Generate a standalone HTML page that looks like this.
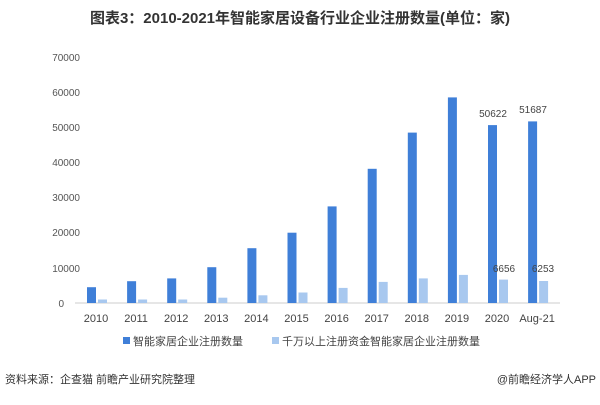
<!DOCTYPE html><html><head><meta charset="utf-8"><style>body{margin:0;background:#fff}svg text{font-family:"Liberation Sans","Noto Sans CJK SC",sans-serif}</style></head><body>
<svg width="600" height="400" xmlns="http://www.w3.org/2000/svg">
<text x="300" y="23" text-anchor="middle" font-size="15" font-weight="bold" fill="#333">图表3：2010-2021年智能家居设备行业企业注册数量(单位：家)</text>
<g font-size="10" fill="#555" text-anchor="end">
<text x="80" y="61">70000</text><text x="80" y="96">60000</text><text x="80" y="131">50000</text><text x="80" y="166">40000</text><text x="80" y="201">30000</text><text x="80" y="236">20000</text><text x="80" y="272">10000</text><text x="64" y="307">0</text>
</g>
<line x1="75" y1="303" x2="560" y2="303" stroke="#ccc"/>
<g fill="#3f7fd8">
<rect x="87" y="287.2" width="9" height="15.8"/>
<rect x="127.1" y="281.2" width="9" height="21.8"/>
<rect x="167.2" y="278.4" width="9" height="24.6"/>
<rect x="207.3" y="267.2" width="9" height="35.8"/>
<rect x="247.4" y="248.2" width="9" height="54.8"/>
<rect x="287.5" y="232.7" width="9" height="70.3"/>
<rect x="327.6" y="206.4" width="9" height="96.6"/>
<rect x="367.7" y="168.8" width="9" height="134.2"/>
<rect x="407.8" y="132.6" width="9" height="170.4"/>
<rect x="447.9" y="97.4" width="9" height="205.6"/>
<rect x="488" y="125.1" width="9" height="177.9"/>
<rect x="528.1" y="121.4" width="9" height="181.6"/>
</g>
<g fill="#a8c8ef">
<rect x="98" y="299.5" width="9" height="3.5"/>
<rect x="138.1" y="299.5" width="9" height="3.5"/>
<rect x="178.2" y="299.5" width="9" height="3.5"/>
<rect x="218.3" y="297.7" width="9" height="5.3"/>
<rect x="258.4" y="295.3" width="9" height="7.7"/>
<rect x="298.5" y="292.5" width="9" height="10.5"/>
<rect x="338.6" y="287.9" width="9" height="15.1"/>
<rect x="378.7" y="281.9" width="9" height="21.1"/>
<rect x="418.8" y="278.4" width="9" height="24.6"/>
<rect x="458.9" y="274.9" width="9" height="28.1"/>
<rect x="499" y="279.6" width="9" height="23.4"/>
<rect x="539.1" y="281" width="9" height="22"/>
</g>
<g font-size="11" fill="#444" text-anchor="middle">
<text x="96" y="322">2010</text><text x="136.1" y="322">2011</text><text x="176.2" y="322">2012</text><text x="216.3" y="322">2013</text><text x="256.4" y="322">2014</text><text x="296.5" y="322">2015</text><text x="336.6" y="322">2016</text><text x="376.7" y="322">2017</text><text x="416.8" y="322">2018</text><text x="456.9" y="322">2019</text><text x="497" y="322">2020</text><text x="537.1" y="322">Aug-21</text>
</g>
<g font-size="10" fill="#444" text-anchor="middle">
<text x="493" y="117">50622</text><text x="533" y="113">51687</text><text x="504" y="272">6656</text><text x="543" y="272">6253</text>
</g>
<rect x="123" y="337" width="7" height="7" fill="#3f7fd8"/><text x="133" y="345" font-size="11" fill="#444">智能家居企业注册数量</text>
<rect x="272" y="337" width="7" height="7" fill="#a8c8ef"/><text x="282" y="345" font-size="11" fill="#444">千万以上注册资金智能家居企业注册数量</text>
<text x="5" y="383" font-size="11" fill="#333">资料来源：企查猫 前瞻产业研究院整理</text>
<text x="596" y="383" font-size="11" fill="#333" text-anchor="end">@前瞻经济学人APP</text>
</svg></body></html>
